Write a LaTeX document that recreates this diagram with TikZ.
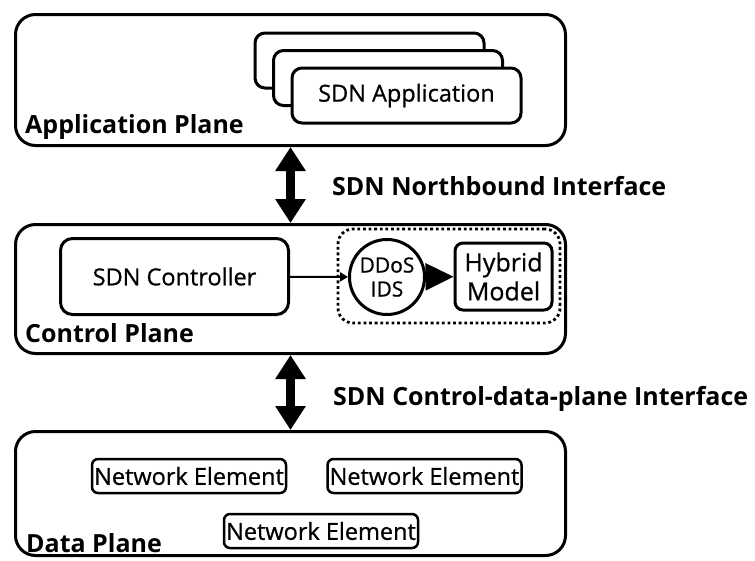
\documentclass[tikz,border=0pt]{standalone}
\usepackage{fontspec}
\setmainfont{Open Sans}
\newfontfamily\mediumfont{Open Sans}[FakeBold=0.7]
\usetikzlibrary{arrows.meta}

\begin{document}
\begin{tikzpicture}[x=1pt, y=-1pt,
    plane/.style={draw, line width=3pt, rounded corners=20pt, inner sep=0pt},
    box/.style={draw, line width=3pt, rounded corners=12pt, fill=white, inner sep=0pt},
    txt/.style={font=\fontsize{23.5}{23.5}\mediumfont},
    elem/.style={draw, line width=2.5pt, rounded corners=6pt, inner sep=0pt,
        minimum width=194pt, minimum height=34pt, txt},
    planelabel/.style={anchor=base west, inner sep=0pt, font=\fontsize{25}{25}\selectfont\bfseries},
    bigarrow/.style={line width=9pt, {Triangle[width=29pt,length=24pt]}-{Triangle[width=29pt,length=24pt]}}]
    \useasboundingbox (0,0) rectangle (755,560);

    \node[plane, minimum width=550pt, minimum height=131pt] (app) at (290.5,80) {};
    \node[plane, minimum width=550pt, minimum height=129pt] (ctrl) at (290.5,289) {};
    \node[plane, minimum width=550pt, minimum height=124pt] (data) at (290.5,493.5) {};

    \node[planelabel] (applabel) at (25,133) {Application Plane};
    \node[planelabel] (ctrllabel) at (25,342) {Control Plane};
    \node[planelabel] (datalabel) at (26,552) {Data Plane};

    % stack of applications
    \foreach \i/\x/\y in {3/369.5/60.5, 2/388/78, 1/406.5/95.5}
    \node[box, rounded corners=10pt, minimum width=229pt, minimum height=55pt] (sdnapp\i) at (\x,\y) {};
    \node[txt] at (sdnapp1) {SDN Application};

    \node[box, minimum width=228pt, minimum height=76pt, txt] (controller) at (174.5,276.5) {SDN Controller};

    \node[draw, line width=2.8pt, dash pattern=on 2.8pt off 2.8pt, rounded corners=15pt,
        minimum width=222pt, minimum height=94pt] (detect) at (449,276) {};
    \node[draw, circle, line width=3pt, minimum size=75pt, inner sep=0pt, align=center,
        font=\fontsize{21}{24}\mediumfont] (ids) at (387,277) {DDoS\\IDS};
    \node[box, rounded corners=8pt, minimum width=97pt, minimum height=67pt, align=center,
        font=\fontsize{25}{29}\mediumfont] (hybrid) at (503.5,276.5) {Hybrid\\Model};

    \draw[line width=2pt, -{Triangle[width=9pt,length=8pt]}] (controller) -- (ids);
    \draw[line width=2pt, -{Triangle[width=27pt,length=28pt]}] (ids) -- (hybrid);

    \node[elem] (ne1) at (189,476) {Network Element};
    \node[elem] (ne2) at (424.5,476) {Network Element};
    \node[elem] (ne3) at (321,531) {Network Element};

    \draw[bigarrow] (app) -- (ctrl);
    \draw[bigarrow] (ctrl) -- (data);

    \node[planelabel] (nbi) at (332,195) {SDN Northbound Interface};
    \node[planelabel] (cdpi) at (333,405) {SDN Control-data-plane Interface};
\end{tikzpicture}
\end{document}
